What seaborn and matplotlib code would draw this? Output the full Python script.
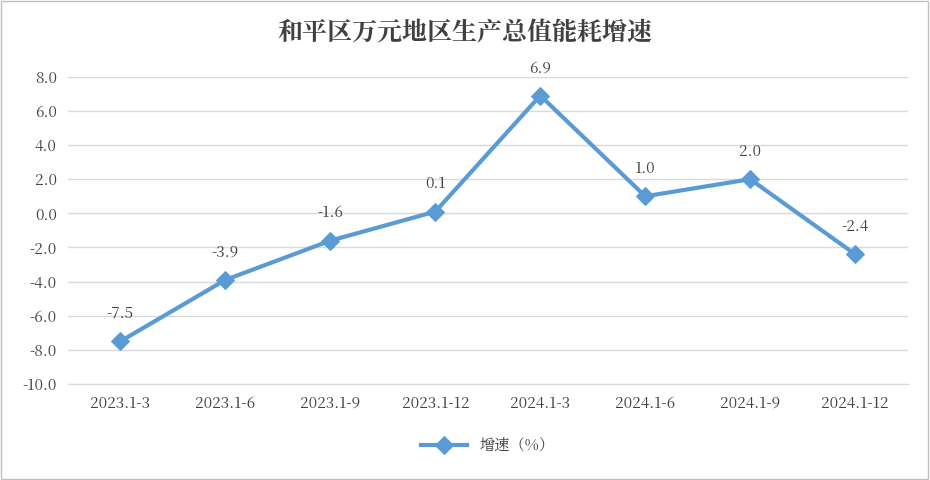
import matplotlib
matplotlib.use("Agg")
import matplotlib.pyplot as plt
from matplotlib import font_manager as fm
import seaborn as sns
import pandas as pd
from matplotlib.patches import Rectangle

categories = ["2023.1-3", "2023.1-6", "2023.1-9", "2023.1-12", "2024.1-3", "2024.1-6", "2024.1-9", "2024.1-12"]
values = [-7.5, -3.9, -1.6, 0.1, 6.9, 1.0, 2.0, -2.4]
series_name = "增速（%）"
title = "和平区万元地区生产总值能耗增速"

cjk_name = None
for f in fm.findSystemFonts():
    if "CJK" in f or "cjk" in f.lower():
        try:
            fm.fontManager.addfont(f)
            n = fm.FontProperties(fname=f).get_name()
            if cjk_name is None or "SC" in n:
                cjk_name = n
        except Exception:
            pass
fams = ["DejaVu Sans"]
if cjk_name:
    fams = [cjk_name, "Noto Sans CJK SC", "DejaVu Sans"]
plt.rcParams["font.family"] = "sans-serif"
plt.rcParams["font.sans-serif"] = fams + ["Noto Sans CJK JP"]

df = pd.DataFrame({"x": categories, "y": values, "s": series_name})

fig = plt.figure(figsize=(9.3, 4.8), dpi=100)
fig.patches.append(Rectangle((0.001, 0.002), 0.997, 0.996, transform=fig.transFigure,
                             fill=False, edgecolor="#BFBFBF", linewidth=1))
ax = fig.add_axes([0.073, 0.2, 0.903, 0.64])
color = "#5B9BD5"
sns.lineplot(data=df, x="x", y="y", hue="s", palette=[color], ax=ax, sort=False,
             marker="D", markersize=9, linewidth=3, markeredgecolor=color)
ax.set_xlim(-0.5, len(categories) - 0.5)
ax.set_ylim(-10, 8)
ax.set_yticks([v for v in range(-10, 9, 2)])
ax.set_yticklabels([f"{v:.1f}" for v in range(-10, 9, 2)])
ax.grid(axis="y", color="#D9D9D9", linewidth=1)
ax.set_axisbelow(True)
for s in ["top", "right", "left"]:
    ax.spines[s].set_visible(False)
ax.spines["bottom"].set_color("#D9D9D9")
ax.tick_params(length=0, labelsize=11, colors="#404040", pad=8)
ax.set_xlabel("")
ax.set_ylabel("")
for i, v in enumerate(values):
    ax.annotate(f"{v:.1f}", (i, v), xytext=(0, 14), textcoords="offset points",
                ha="center", va="bottom", fontsize=11, color="#404040")
ax.legend(loc="upper center", bbox_to_anchor=(0.5, -0.13), frameon=False, fontsize=11,
          handlelength=3)
for t in ax.get_legend().get_texts():
    t.set_color("#404040")
fig.text(0.5, 0.93, title, ha="center", va="center", fontsize=18, fontweight="bold", color="#404040")
fig.savefig("out.png", dpi=100)
